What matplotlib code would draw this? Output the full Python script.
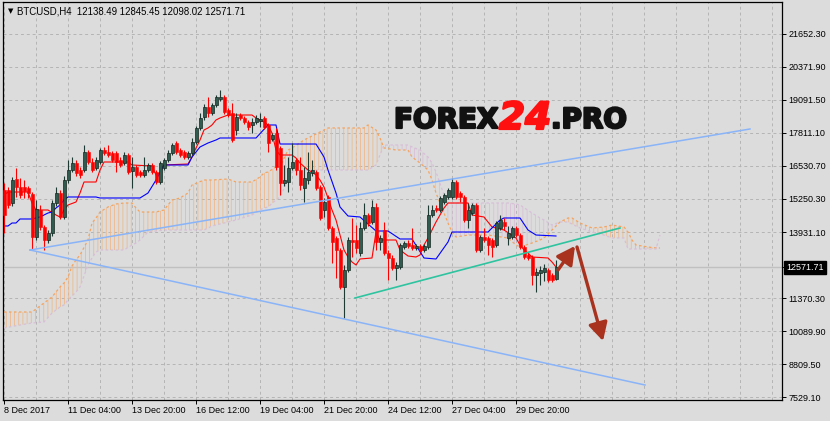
import numpy as np
import matplotlib
matplotlib.use("Agg")
import matplotlib.pyplot as plt
import matplotlib.patheffects as pe
from matplotlib.transforms import blended_transform_factory

# ---- donnees (BTCUSD H4) ----
header = "BTCUSD,H4  12138.49 12845.45 12098.02 12571.71"

opens = [15583, 15583, 15077, 16011, 15700, 15700, 15661, 15427, 13755, 14805,
         14144, 13638, 13910, 15077, 15466, 14533, 15972, 16361, 16633, 16361,
         16361, 17061, 16672, 16439, 16672, 17139, 17061, 17022, 17022, 16750,
         16633, 16944, 16322, 16478, 16283, 16166, 16361, 16556, 16283, 15894,
         16439, 16750, 17022, 17411, 17139, 17061, 16867, 17022, 17450, 17995,
         18423, 18812, 18578, 18890, 19123, 19201, 18695, 18578, 17917, 18500,
         18384, 18228, 18112, 18228, 18267, 18384, 18112, 17567, 17800, 17217,
         15855, 15894, 16439, 16750, 16361, 15661, 15972, 16244, 16283, 15700,
         14805, 15311, 14105, 13716, 13249, 11810, 12471, 13638, 13638, 13132,
         14105, 14611, 14338, 14922, 13560, 14027, 13132, 12938, 12549, 12588,
         13366, 13521, 13444, 13327, 13405, 13249, 13366, 14611, 14883, 14805,
         15116, 15311, 15311, 15894, 15466, 15311, 14416, 14688, 15000, 13249,
         13755, 13716, 13638, 13444, 14105, 14338, 13716, 13755, 14105, 13832,
         13366, 13055, 12977, 12277, 12354, 12393, 12471, 12277, 12138.49]
highs = [15855, 15700, 16089, 16439, 16050, 15972, 15739, 15505, 15194, 15000,
         14221, 14027, 15194, 15700, 15583, 16128, 16750, 16867, 16750, 16478,
         17334, 17139, 16828, 16867, 17217, 17256, 17334, 17100, 17100, 16867,
         17061, 17022, 16867, 16556, 16361, 16867, 16633, 16633, 16361, 16711,
         16828, 17139, 17411, 17489, 17217, 17139, 17100, 17606, 18073, 18578,
         18928, 19201, 18967, 19278, 19473, 19278, 18773, 18967, 18578, 18578,
         18462, 18306, 18384, 18500, 18578, 18462, 18189, 17800, 17995, 17295,
         16556, 16867, 17411, 16828, 16867, 16478, 17061, 16750, 16361, 15777,
         15272, 15389, 14183, 13794, 13327, 12666, 13755, 14494, 14221, 14338,
         15077, 14688, 15194, 15077, 13832, 14338, 13249, 13055, 12782, 13521,
         13599, 13638, 14105, 13482, 13482, 13482, 15000, 15000, 15000, 15350,
         15466, 15661, 16050, 15972, 15544, 15389, 15077, 15077, 15077, 13832,
         14105, 13794, 13716, 14377, 14611, 14494, 14183, 14183, 14183, 13910,
         13444, 13132, 13055, 12549, 12627, 12704, 12549, 12354, 12845.45]
lows = [13910, 14883, 14961, 15311, 15272, 15272, 15272, 13249, 13638, 14027,
        13249, 13521, 13794, 14961, 14455, 14455, 15855, 16283, 16128, 16050,
        16283, 16594, 16283, 16361, 16594, 16944, 16867, 16672, 16283, 16478,
        16556, 16205, 15661, 16089, 16089, 16089, 16283, 16205, 15816, 15816,
        16361, 16672, 16944, 16983, 16867, 16789, 16789, 16944, 17372, 17917,
        18306, 18423, 18500, 18812, 19045, 18539, 18423, 17450, 17723, 18306,
        18150, 17917, 17800, 18150, 18034, 17956, 17061, 17489, 16361, 15389,
        15739, 15505, 16361, 16166, 15583, 15116, 15816, 16128, 15583, 14416,
        14533, 14027, 12743, 12160, 11732, 10604, 12393, 12977, 13132, 13016,
        14027, 14183, 14260, 13249, 13249, 13055, 12082, 12471, 12082, 12510,
        13288, 13327, 13249, 13249, 13171, 13171, 13288, 14533, 14727, 14727,
        15038, 15233, 15233, 15233, 15116, 14338, 14105, 14611, 13171, 13171,
        13560, 13055, 12977, 13366, 14027, 14027, 13444, 13677, 13755, 13288,
        12899, 12860, 11888, 11615, 11888, 12043, 12004, 12004, 12098.02]
closes = [14611, 15000, 15972, 15700, 15389, 15544, 15466, 13755, 14844, 14144,
          13638, 13910, 15077, 15466, 14533, 15972, 16361, 16633, 16244, 16166,
          17061, 16672, 16361, 16750, 17139, 17022, 16944, 16750, 16672, 16556,
          16944, 16283, 16478, 16166, 16166, 16361, 16556, 16283, 15894, 16633,
          16750, 17022, 17334, 17061, 16944, 16867, 17022, 17450, 17995, 18384,
          18812, 18578, 18890, 19201, 19201, 18617, 18500, 17528, 18423, 18384,
          18228, 18034, 18228, 18384, 18345, 18034, 17411, 17723, 16478, 15855,
          15972, 16439, 16672, 16361, 15777, 16050, 16283, 16361, 15661, 14494,
          15116, 14105, 13560, 13249, 11810, 12471, 13638, 13560, 13327, 14105,
          14611, 14299, 14922, 13560, 13716, 13132, 12938, 12549, 12666, 13444,
          13521, 13405, 13327, 13405, 13249, 13405, 14611, 14805, 14805, 15272,
          15389, 15583, 15894, 15311, 15311, 14416, 14805, 15000, 13249, 13755,
          13638, 13444, 13366, 14299, 14416, 14183, 13910, 14105, 13832, 13366,
          12977, 12938, 12277, 12393, 12471, 12549, 12082, 12082, 12571.71]

date_labels = ["8 Dec 2017", "11 Dec 04:00", "13 Dec 20:00", "16 Dec 12:00",
               "19 Dec 04:00", "21 Dec 20:00", "24 Dec 12:00", "27 Dec 04:00",
               "29 Dec 20:00"]
price_ticks = [21652.30, 20371.90, 19091.50, 17811.10, 16530.70, 15250.30,
               13931.10, 11370.30, 10089.90, 8809.50, 7529.10]
last_price = 12571.71

# Ichimoku : tenkan (rouge), kijun (bleu)
tenkan_bar = [0, 1, 6, 7, 8, 11, 13, 14, 15, 16, 18, 19, 20, 23, 24, 25, 31, 32,
              37, 38, 39, 40, 46, 47, 48, 49, 50, 51, 52, 53, 54, 56, 62, 63, 65,
              66, 67, 68, 69, 72, 73, 74, 76, 77, 78, 79, 80, 81, 82, 83, 84, 85,
              86, 87, 88, 89, 92, 93, 94, 98, 99, 101, 103, 104, 105, 106, 107,
              108, 109, 110, 111, 116, 117, 120, 121, 122, 125, 128, 129, 130,
              131, 132, 136, 137, 138]
tenkan_val = [15389, 15505, 15505, 15077, 14805, 14805, 14611, 14533, 14805, 15000,
              15116, 15466, 15894, 15894, 16361, 16672, 16672, 16556, 16517, 16166,
              16244, 16556, 16594, 16867, 17217, 17528, 17917, 17995, 18112, 18306,
              18384, 18500, 18500, 18384, 18228, 18112, 17800, 17139, 16944, 16944,
              16828, 16633, 16361, 16283, 16166, 15972, 15700, 15272, 14805, 14416,
              13832, 13249, 12977, 12782, 12666, 12899, 12938, 13949, 13638, 13638,
              13249, 13016, 12977, 13055, 13444, 13716, 14027, 14338, 14611, 14883,
              15077, 15077, 14611, 14533, 14338, 14144, 14027, 13716, 13444, 13249,
              13132, 12977, 12938, 12782, 12588]
kijun_bar = [0, 1, 2, 3, 4, 7, 8, 9, 10, 11, 12, 13, 14, 15, 16, 23, 24, 34, 36,
             38, 40, 46, 47, 49, 51, 53, 54, 63, 66, 68, 69, 78, 80, 81, 83, 84,
             86, 89, 93, 96, 99, 102, 105, 108, 111, 112, 121, 124, 125, 129, 131,
             133, 138]
kijun_val = [14183, 14183, 14299, 14299, 14455, 14455, 14494, 14533, 14611, 14688,
             14727, 14883, 15000, 15194, 15311, 15311, 15272, 15272, 15466, 15972,
             16556, 16556, 16867, 17256, 17411, 17528, 17606, 17606, 18112, 18112,
             17372, 17372, 16867, 16361, 15466, 14922, 14572, 14533, 13988, 13988,
             13677, 13677, 12938, 12899, 13560, 13949, 13949, 14416, 14494, 14494,
             14027, 13832, 13794]

# nuage (senkou A / senkou B)
cloud_bar = [0, 4, 7, 10, 12, 14, 15, 16, 17, 18, 19, 21, 22, 23, 24, 26, 28, 30,
             32, 33, 34, 36, 38, 40, 42, 44, 46, 47, 50, 52, 56, 58, 62, 64, 65,
             66, 68, 69, 71, 72, 75, 79, 81, 90, 91, 93, 94, 95, 98, 101, 102, 104,
             106, 107, 108, 110, 111, 112, 113, 116, 121, 126, 128, 129, 132, 134,
             135, 137, 139, 141, 142, 144, 147, 150, 152, 155, 156, 157, 158, 161,
             163, 164]
span_a = [10837, 10837, 10837, 11187, 11421, 11810, 11965, 12199, 12627, 12860,
          13055, 13638, 14299, 14494, 14727, 14922, 15038, 15077, 15077, 14883,
          14727, 14727, 14727, 14805, 15194, 15272, 15466, 15777, 15972, 15972,
          16011, 15894, 15894, 16089, 16244, 16283, 16478, 16478, 17139, 17217,
          17528, 17839, 17995, 17995, 18112, 17917, 17606, 17217, 17139, 17139,
          16867, 16633, 16361, 15972, 15466, 14688, 14299, 13949, 13755, 13832,
          13832, 13716, 13444, 13366, 13521, 13638, 13716, 14027, 14338, 14494,
          14494, 14299, 14105, 14144, 14221, 14144, 13949, 13638, 13444, 13366,
          13327, 13327]
span_b = [10215, 10332, 10409, 10448, 10798, 11032, 11110, 11304, 11460, 11615,
          11810, 12666, 12938, 13171, 13249, 13249, 13249, 13249, 13444, 13521,
          13638, 13949, 13988, 14027, 14027, 14027, 14027, 14027, 14027, 14183,
          14338, 14416, 14611, 14805, 14883, 14922, 15194, 15311, 15972, 16283,
          16361, 16361, 16361, 16361, 16361, 16556, 16944, 17334, 17334, 17334,
          17256, 17139, 16867, 16633, 16283, 15389, 15077, 15077, 15077, 15077,
          15077, 15077, 15038, 15000, 14688, 14494, 14416, 14221, 14338, 14338,
          14260, 14105, 13949, 13832, 13716, 13716, 13288, 13288, 13288, 13288,
          13288, 13832]

# objets traces a la main
upper_line_bar = [6.5, 186.5]
upper_line_val = [13249, 17956]
lower_line_bar = [6.5, 160.25]
lower_line_val = [13249, 7997]
channel_bar = [87.75, 154]
channel_val = [11382, 14105]
arrow_up = [(138.5, 12471), (142.75, 13405)]
arrow_down = [(143.25, 13366), (149.75, 9709)]

BG = "#dcdcdc"
plt.rcParams["font.family"] = ["Liberation Sans", "DejaVu Sans"]
plt.rcParams["hatch.linewidth"] = 0.6


def tracer_bougies(ax):
    x = np.arange(len(opens))
    o = np.array(opens)
    h = np.array(highs)
    l = np.array(lows)
    c = np.array(closes)
    up = c >= o
    dn = ~up
    ax.vlines(x[up], l[up], h[up], color="#1d3a33", lw=0.8, zorder=5)
    ax.vlines(x[dn], l[dn], h[dn], color="#ff0000", lw=0.8, zorder=5)
    ax.bar(x[up], c[up] - o[up], bottom=o[up], width=0.75, color="#2f5c4f",
           edgecolor="#15261f", lw=0.5, zorder=6)
    ax.bar(x[dn], o[dn] - c[dn], bottom=c[dn], width=0.75, color="#ff0000",
           edgecolor="#ff0000", lw=0.4, zorder=6)


def tracer_ichimoku(ax):
    a = np.array(span_a)
    b = np.array(span_b)
    ax.fill_between(cloud_bar, a, b, where=a >= b, interpolate=True,
                    facecolor="none", edgecolor="#efb98a", hatch="||||", lw=0, zorder=2)
    ax.fill_between(cloud_bar, a, b, where=a < b, interpolate=True,
                    facecolor="none", edgecolor="#d9c0d9", hatch="||||", lw=0, zorder=2)
    ax.plot(cloud_bar, span_a, color="#f4a460", lw=0.9, ls=(0, (2, 2)), zorder=3)
    ax.plot(cloud_bar, span_b, color="#d8bfd8", lw=0.9, ls=(0, (2, 2)), zorder=3)
    ax.plot(tenkan_bar, tenkan_val, color="#ff0000", lw=0.8, zorder=4)
    ax.plot(kijun_bar, kijun_val, color="#0000ff", lw=0.8, zorder=4)


def tracer_objets(ax):
    ax.plot(upper_line_bar, upper_line_val, color="#8ab4f8", lw=1.1, zorder=7)
    ax.plot(lower_line_bar, lower_line_val, color="#8ab4f8", lw=1.1, zorder=7)
    ax.plot(channel_bar, channel_val, color="#2ec4a0", lw=1.2, zorder=7)
    for debut, fin in (arrow_up, arrow_down):
        ax.annotate("", xy=fin, xytext=debut, zorder=8,
                    arrowprops=dict(arrowstyle="-|>,head_length=0.6,head_width=0.32",
                                    mutation_scale=18, color="#a8321e", lw=2.4,
                                    shrinkA=0, shrinkB=0))


def main():
    fig = plt.figure(figsize=(8.3, 4.21), dpi=100, facecolor=BG)
    ax = fig.add_axes([3 / 830, 21 / 421, 779 / 830, 398 / 421], facecolor=BG)

    ax.axhline(last_price, color="#c0c0c0", lw=1, zorder=1)
    tracer_ichimoku(ax)
    tracer_bougies(ax)
    tracer_objets(ax)

    ax.set_xlim(-0.25, 194.5)
    ax.set_ylim(7414, 22896)

    ax.set_xticks(np.arange(len(date_labels)) * 16)
    ax.set_xticklabels(date_labels)
    ax.set_xticks(np.arange(8, 195, 8), minor=True)
    for lab in ax.get_xticklabels():
        lab.set_horizontalalignment("left")
    ax.yaxis.tick_right()
    ax.set_yticks(price_ticks)
    ax.set_yticklabels(["%.2f" % p for p in price_ticks])
    ax.set_yticks([last_price], minor=True)

    ax.tick_params(axis="both", which="major", direction="out", length=3, width=0.7,
                   labelsize=6.5, pad=1.5, colors="black")
    ax.tick_params(axis="x", which="minor", length=0)
    ax.tick_params(axis="y", which="minor", direction="out", length=3, width=0.7)

    ax.xaxis.grid(True, which="both", color="#b4b4b4", lw=0.7, ls=(0, (3, 3)))
    ax.yaxis.grid(True, which="major", color="#b4b4b4", lw=0.7, ls=(0, (3, 3)))
    ax.set_axisbelow(True)
    for sp in ax.spines.values():
        sp.set_color("black")
        sp.set_linewidth(0.9)

    trans = blended_transform_factory(ax.transAxes, ax.transData)
    ax.text(1.005, last_price, "%.2f" % last_price, transform=trans, color="white",
            fontsize=6.5, va="center", ha="left", clip_on=False,
            bbox=dict(boxstyle="square,pad=0.25", facecolor="black", edgecolor="black"))

    # entete
    fig.text(8 / 830, 1 - 11 / 421, "\u25bc", fontsize=5, va="center",
             family="DejaVu Sans", color="black")
    fig.text(17 / 830, 1 - 11 / 421, header, fontsize=6.9, va="center", color="black")

    # filigrane
    epais = [pe.withStroke(linewidth=1.6, foreground="#111111")]
    fig.text(394 / 830, 1 - 128 / 421, "FOREX", fontsize=20, fontweight="heavy",
             family="DejaVu Sans", color="#111111", va="baseline", path_effects=epais)
    fig.text(499 / 830, 1 - 129 / 421, "24", fontsize=27, fontweight="heavy",
             style="italic", family="DejaVu Sans", color="#ff1010", va="baseline",
             path_effects=[pe.withStroke(linewidth=1.6, foreground="#ff1010")])
    fig.text(551 / 830, 1 - 128 / 421, ".PRO", fontsize=20, fontweight="heavy",
             family="DejaVu Sans", color="#111111", va="baseline", path_effects=epais)

    fig.savefig("out.png", dpi=100, facecolor=BG)


main()
